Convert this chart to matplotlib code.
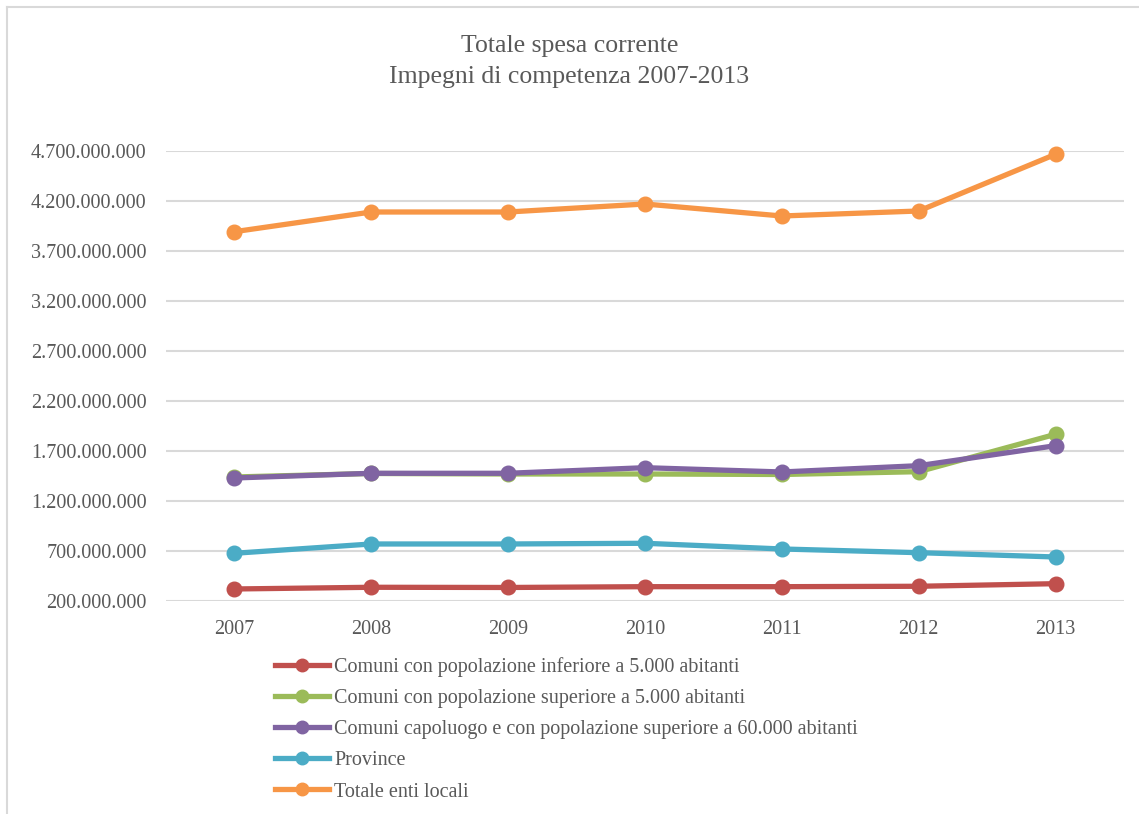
"""Totale spesa corrente degli enti locali, impegni di competenza 2007-2013."""

import matplotlib

matplotlib.use("Agg")
import matplotlib.pyplot as plt
import numpy as np
from matplotlib.lines import Line2D
from matplotlib.ticker import FuncFormatter

years = ["2007", "2008", "2009", "2010", "2011", "2012", "2013"]

comuni_inf_5000 = [320e6, 337e6, 335e6, 343e6, 343e6, 347e6, 373e6]
comuni_sup_5000 = [1440e6, 1475e6, 1470e6, 1470e6, 1465e6, 1493e6, 1867e6]
comuni_capoluogo = [1430e6, 1477e6, 1477e6, 1533e6, 1490e6, 1553e6, 1753e6]
province = [677e6, 770e6, 770e6, 777e6, 720e6, 683e6, 640e6]
totale_enti = [3893e6, 4090e6, 4090e6, 4170e6, 4050e6, 4100e6, 4667e6]

series_labels = [
    "Comuni con popolazione inferiore a 5.000 abitanti",
    "Comuni con popolazione superiore a 5.000 abitanti",
    "Comuni capoluogo e con popolazione superiore a 60.000 abitanti",
    "Province",
    "Totale enti locali",
]

COLORS = ["#C0504D", "#9BBB59", "#8064A2", "#4BACC6", "#F79646"]
TEXT = "#595959"
GRID = "#D9D9D9"
FONT = "Liberation Serif"
Y_MIN, Y_MAX, Y_STEP = 200e6, 4700e6, 500e6


def thousands(value, _pos):
    return f"{value:,.0f}".replace(",", ".")


def main() -> None:
    plt.rcParams["font.family"] = FONT
    fig = plt.figure(figsize=(11.39, 8.14), dpi=100)
    ax = fig.add_axes([0.1457, 0.2617, 0.8411, 0.5528])

    x = list(range(len(years)))
    all_series = [comuni_inf_5000, comuni_sup_5000, comuni_capoluogo, province, totale_enti]
    for values, label, color in zip(all_series, series_labels, COLORS):
        ax.plot(
            x,
            values,
            color=color,
            linewidth=3.8,
            marker="o",
            markersize=10.5,
            label=label,
            clip_on=False,
            solid_capstyle="round",
        )

    ax.set_xlim(-0.5, len(years) - 0.5)
    ax.set_ylim(Y_MIN, Y_MAX)
    ax.set_yticks(np.arange(Y_MIN, Y_MAX + 1, Y_STEP))
    ax.yaxis.set_major_formatter(FuncFormatter(thousands))
    ax.set_xticks(x)
    ax.set_xticklabels(years)
    ax.tick_params(axis="both", length=0, labelsize=14.5, colors=TEXT)
    ax.tick_params(axis="y", pad=14)
    ax.tick_params(axis="x", pad=14)
    ax.grid(axis="y", color=GRID, linewidth=1.5)
    ax.set_axisbelow(True)
    for spine in ax.spines.values():
        spine.set_visible(False)

    fig.text(0.5, 0.944, "Totale spesa corrente", ha="center", va="center",
             fontsize=18.5, color=TEXT)
    fig.text(0.5, 0.906, "Impegni di competenza 2007-2013", ha="center", va="center",
             fontsize=18.5, color=TEXT)

    handles = [
        Line2D([], [], color=c, linewidth=3.8, marker="o", markersize=9)
        for c in COLORS
    ]
    fig.legend(
        handles,
        series_labels,
        loc="upper left",
        bbox_to_anchor=(0.2414, 0.193),
        frameon=False,
        fontsize=14.5,
        handlelength=2.7,
        handletextpad=0.25,
        labelspacing=0.6,
        labelcolor=TEXT,
        borderaxespad=0,
        borderpad=0,
    )

    # light chart-area border along top and left
    fig.add_artist(Line2D([0.006, 1.0], [0.991, 0.991], color="#D9D9D9", linewidth=1.5))
    fig.add_artist(Line2D([0.006, 0.006], [0.0, 0.991], color="#D9D9D9", linewidth=1.5))

    fig.savefig("out.png", dpi=100)
    plt.close(fig)


if __name__ == "__main__":
    main()
